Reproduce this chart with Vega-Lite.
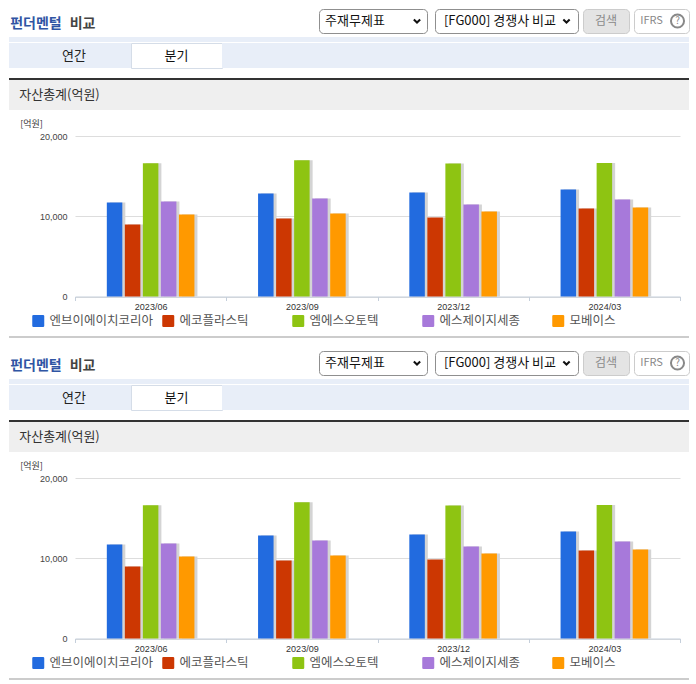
{"$schema":"https://vega.github.io/schema/vega-lite/v6.json","background":"white","padding":0,"config":{"view":{"stroke":null},"font":"Noto Sans CJK KR","concat":{"spacing":0}},"resolve":{"scale":{"color":"independent"},"legend":{"color":"independent"}},"datasets":{"fund":[{"q":"2023/06","c":"엔브이에이치코리아","v":11710},{"q":"2023/06","c":"에코플라스틱","v":8960},{"q":"2023/06","c":"엠에스오토텍","v":16610},{"q":"2023/06","c":"에스제이지세종","v":11830},{"q":"2023/06","c":"모베이스","v":10210},{"q":"2023/09","c":"엔브이에이치코리아","v":12830},{"q":"2023/09","c":"에코플라스틱","v":9710},{"q":"2023/09","c":"엠에스오토텍","v":16980},{"q":"2023/09","c":"에스제이지세종","v":12210},{"q":"2023/09","c":"모베이스","v":10330},{"q":"2023/12","c":"엔브이에이치코리아","v":12960},{"q":"2023/12","c":"에코플라스틱","v":9830},{"q":"2023/12","c":"엠에스오토텍","v":16570},{"q":"2023/12","c":"에스제이지세종","v":11460},{"q":"2023/12","c":"모베이스","v":10580},{"q":"2024/03","c":"엔브이에이치코리아","v":13330},{"q":"2024/03","c":"에코플라스틱","v":10960},{"q":"2024/03","c":"엠에스오토텍","v":16650},{"q":"2024/03","c":"에스제이지세종","v":12080},{"q":"2024/03","c":"모베이스","v":11080}]},"vconcat":[
{"width":10,"height":8,"data":{"values":[{}]},"mark":{"type":"rect","opacity":0}},
{"hconcat":[
{"width":319,"height":24,"data":{"values":[{"a":"펀더멘털","b":"비교"}]},"layer":[{"mark":{"type":"text","dx":-123.5,"dy":3,"fontSize":14,"fontWeight":"bold","color":"#2f55a4"},"encoding":{"text":{"field":"a"}}},{"mark":{"type":"text","dx":-77,"dy":3,"fontSize":14,"fontWeight":"bold","color":"#444444"},"encoding":{"text":{"field":"b"}}}]},
{"width":108,"height":24,"view":{"stroke":"#8f8f8f","cornerRadius":4,"fill":"white"},"data":{"values":[{"t":"주재무제표"}]},"layer":[{"mark":{"type":"text","dx":-18,"fontSize":13,"color":"#111111"},"encoding":{"text":{"field":"t"}}},{"mark":{"type":"point","shape":"M-1,-0.5L0,0.5L1,-0.5","filled":false,"stroke":"#111111","strokeWidth":2,"opacity":1,"size":40,"xOffset":44}}]},
{"width":8,"height":24,"data":{"values":[{}]},"mark":{"type":"rect","opacity":0}},
{"width":143,"height":24,"view":{"stroke":"#8f8f8f","cornerRadius":4,"fill":"white"},"data":{"values":[{"t":"[FG000] 경쟁사 비교"}]},"layer":[{"mark":{"type":"text","dx":-6.5,"fontSize":13,"color":"#111111"},"encoding":{"text":{"field":"t"}}},{"mark":{"type":"point","shape":"M-1,-0.5L0,0.5L1,-0.5","filled":false,"stroke":"#111111","strokeWidth":2,"opacity":1,"size":40,"xOffset":60}}]},
{"width":5,"height":24,"data":{"values":[{}]},"mark":{"type":"rect","opacity":0}},
{"width":46,"height":24,"view":{"stroke":"#cccccc","cornerRadius":4,"fill":"#e4e4e4"},"data":{"values":[{"t":"검색"}]},"mark":{"type":"text","fontSize":12,"color":"#8a8a8a"},"encoding":{"text":{"field":"t"}}},
{"width":5,"height":24,"data":{"values":[{}]},"mark":{"type":"rect","opacity":0}},
{"width":55,"height":24,"view":{"stroke":"#cccccc","cornerRadius":4,"fill":"white"},"data":{"values":[{"t":"IFRS","h":"?"}]},"layer":[{"mark":{"type":"text","dx":-10,"fontSize":11,"color":"#888888"},"encoding":{"text":{"field":"t"}}},{"mark":{"type":"point","shape":"circle","filled":false,"stroke":"#888888","opacity":1,"size":170,"xOffset":16}},{"mark":{"type":"text","dx":16,"fontSize":10,"color":"#888888"},"encoding":{"text":{"field":"h"}}}]}
],"bounds":"flush"},
{"width":10,"height":3,"data":{"values":[{}]},"mark":{"type":"rect","opacity":0}},
{"hconcat":[{"width":9,"height":5,"data":{"values":[{}]},"mark":{"type":"rect","opacity":0}},{"width":680,"height":5,"data":{"values":[{}]},"mark":{"type":"rect","color":"#e8eef8"}}],"bounds":"flush"},
{"hconcat":[{"width":9,"height":25,"data":{"values":[{}]},"mark":{"type":"rect","opacity":0}},
{"width":122,"height":25,"view":{"fill":"#e8eef8"},"data":{"values":[{"t":"연간"}]},"mark":{"type":"text","dx":4,"fontSize":13,"color":"#222222"},"encoding":{"text":{"field":"t"}}},
{"width":91,"height":25,"view":{"fill":"white","stroke":"#d5dde8"},"data":{"values":[{"t":"분기"}]},"mark":{"type":"text","fontSize":13,"color":"#111111"},"encoding":{"text":{"field":"t"}}},
{"width":467,"height":25,"data":{"values":[{}]},"mark":{"type":"rect","color":"#e8eef8"}}],"bounds":"flush"},
{"width":10,"height":9,"data":{"values":[{}]},"mark":{"type":"rect","opacity":0}},
{"hconcat":[{"width":9,"height":2,"data":{"values":[{}]},"mark":{"type":"rect","opacity":0}},{"width":680,"height":2,"data":{"values":[{}]},"mark":{"type":"rect","color":"#333333"}}],"bounds":"flush"},
{"hconcat":[{"width":9,"height":30,"data":{"values":[{}]},"mark":{"type":"rect","opacity":0}},{"width":680,"height":30,"view":{"fill":"#efefef"},"data":{"values":[{"t":"자산총계(억원)"}]},"mark":{"type":"text","dx":-289.5,"fontSize":13,"color":"#333333"},"encoding":{"text":{"field":"t"}}}],"bounds":"flush"},
{"width":10,"height":8.5,"data":{"values":[{}]},"mark":{"type":"rect","opacity":0}},
{"hconcat":[{"width":75,"height":160,"data":{"values":[{}]},"mark":{"type":"rect","opacity":0}},
{"width":605,"height":160.5,"data":{"name":"fund"},"resolve":{"scale":{"xOffset":"independent"}},"layer":[
{"mark":{"type":"bar","color":"#d4d4d4"},"encoding":{"x":{"field":"q","type":"ordinal","scale":{"paddingInner":0,"paddingOuter":0},"axis":{"title":null,"labelAngle":0,"labelFont":"Liberation Sans","labelFontSize":9,"labelColor":"#333333","labelPadding":2,"tickBand":"extent","tickColor":"#c5cfdb","tickSize":4,"domainColor":"#c5cfdb"}},"xOffset":{"field":"c","scale":{"domain":["_a","엔브이에이치코리아","에코플라스틱","엠에스오토텍","에스제이지세종","모베이스","_b"],"paddingInner":0.14,"paddingOuter":0.765,"align":0.609}},"y":{"field":"v","type":"quantitative","scale":{"domain":[0,20000]},"axis":{"title":"[억원]","titleAngle":0,"titleFontSize":9,"titleFontWeight":"normal","titleColor":"#333333","titleX":-44,"titleY":-8,"titleAlign":"center","values":[0,10000,20000],"format":",.0f","labelFont":"Liberation Sans","labelFontSize":9,"labelColor":"#444444","labelPadding":8,"tickSize":0,"domain":false,"gridColor":"#dddddd"}}}},
{"mark":{"type":"bar"},"encoding":{"x":{"field":"q","type":"ordinal"},"xOffset":{"field":"c","scale":{"domain":["_a","엔브이에이치코리아","에코플라스틱","엠에스오토텍","에스제이지세종","모베이스","_b"],"paddingInner":0.14,"paddingOuter":0.765}},"y":{"field":"v","type":"quantitative"},"color":{"field":"c","type":"nominal","sort":["엔브이에이치코리아","에코플라스틱","엠에스오토텍","에스제이지세종","모베이스"],"scale":{"domain":["엔브이에이치코리아","에코플라스틱","엠에스오토텍","에스제이지세종","모베이스"],"range":["#226bdf","#cc3702","#8ec412","#a779da","#ff9900"]},"legend":{"title":null,"orient":"none","legendX":-43,"legendY":178.5,"columns":5,"gridAlign":"all","columnPadding":8,"symbolType":"M-0.8,-1H0.8Q1,-1 1,-0.8V0.8Q1,1 0.8,1H-0.8Q-1,1 -1,0.8V-0.8Q-1,-1 -0.8,-1Z","symbolSize":144,"symbolStrokeWidth":0,"labelFontSize":12.5,"labelColor":"#555555","labelOffset":5}}}}
]}],"bounds":"flush","resolve":{"scale":{"color":"independent"},"legend":{"color":"independent"}}},
{"width":10,"height":8,"data":{"values":[{}]},"mark":{"type":"rect","opacity":0}},
{"hconcat":[{"width":9,"height":2,"data":{"values":[{}]},"mark":{"type":"rect","opacity":0}},{"width":680,"height":2,"data":{"values":[{}]},"mark":{"type":"rect","color":"#cccccc"}}],"bounds":"flush"},

{"width":10,"height":12,"data":{"values":[{}]},"mark":{"type":"rect","opacity":0}},
{"hconcat":[
{"width":319,"height":24,"data":{"values":[{"a":"펀더멘털","b":"비교"}]},"layer":[{"mark":{"type":"text","dx":-123.5,"dy":3,"fontSize":14,"fontWeight":"bold","color":"#2f55a4"},"encoding":{"text":{"field":"a"}}},{"mark":{"type":"text","dx":-77,"dy":3,"fontSize":14,"fontWeight":"bold","color":"#444444"},"encoding":{"text":{"field":"b"}}}]},
{"width":108,"height":24,"view":{"stroke":"#8f8f8f","cornerRadius":4,"fill":"white"},"data":{"values":[{"t":"주재무제표"}]},"layer":[{"mark":{"type":"text","dx":-18,"fontSize":13,"color":"#111111"},"encoding":{"text":{"field":"t"}}},{"mark":{"type":"point","shape":"M-1,-0.5L0,0.5L1,-0.5","filled":false,"stroke":"#111111","strokeWidth":2,"opacity":1,"size":40,"xOffset":44}}]},
{"width":8,"height":24,"data":{"values":[{}]},"mark":{"type":"rect","opacity":0}},
{"width":143,"height":24,"view":{"stroke":"#8f8f8f","cornerRadius":4,"fill":"white"},"data":{"values":[{"t":"[FG000] 경쟁사 비교"}]},"layer":[{"mark":{"type":"text","dx":-6.5,"fontSize":13,"color":"#111111"},"encoding":{"text":{"field":"t"}}},{"mark":{"type":"point","shape":"M-1,-0.5L0,0.5L1,-0.5","filled":false,"stroke":"#111111","strokeWidth":2,"opacity":1,"size":40,"xOffset":60}}]},
{"width":5,"height":24,"data":{"values":[{}]},"mark":{"type":"rect","opacity":0}},
{"width":46,"height":24,"view":{"stroke":"#cccccc","cornerRadius":4,"fill":"#e4e4e4"},"data":{"values":[{"t":"검색"}]},"mark":{"type":"text","fontSize":12,"color":"#8a8a8a"},"encoding":{"text":{"field":"t"}}},
{"width":5,"height":24,"data":{"values":[{}]},"mark":{"type":"rect","opacity":0}},
{"width":55,"height":24,"view":{"stroke":"#cccccc","cornerRadius":4,"fill":"white"},"data":{"values":[{"t":"IFRS","h":"?"}]},"layer":[{"mark":{"type":"text","dx":-10,"fontSize":11,"color":"#888888"},"encoding":{"text":{"field":"t"}}},{"mark":{"type":"point","shape":"circle","filled":false,"stroke":"#888888","opacity":1,"size":170,"xOffset":16}},{"mark":{"type":"text","dx":16,"fontSize":10,"color":"#888888"},"encoding":{"text":{"field":"h"}}}]}
],"bounds":"flush"},
{"width":10,"height":3,"data":{"values":[{}]},"mark":{"type":"rect","opacity":0}},
{"hconcat":[{"width":9,"height":5,"data":{"values":[{}]},"mark":{"type":"rect","opacity":0}},{"width":680,"height":5,"data":{"values":[{}]},"mark":{"type":"rect","color":"#e8eef8"}}],"bounds":"flush"},
{"hconcat":[{"width":9,"height":25,"data":{"values":[{}]},"mark":{"type":"rect","opacity":0}},
{"width":122,"height":25,"view":{"fill":"#e8eef8"},"data":{"values":[{"t":"연간"}]},"mark":{"type":"text","dx":4,"fontSize":13,"color":"#222222"},"encoding":{"text":{"field":"t"}}},
{"width":91,"height":25,"view":{"fill":"white","stroke":"#d5dde8"},"data":{"values":[{"t":"분기"}]},"mark":{"type":"text","fontSize":13,"color":"#111111"},"encoding":{"text":{"field":"t"}}},
{"width":467,"height":25,"data":{"values":[{}]},"mark":{"type":"rect","color":"#e8eef8"}}],"bounds":"flush"},
{"width":10,"height":9,"data":{"values":[{}]},"mark":{"type":"rect","opacity":0}},
{"hconcat":[{"width":9,"height":2,"data":{"values":[{}]},"mark":{"type":"rect","opacity":0}},{"width":680,"height":2,"data":{"values":[{}]},"mark":{"type":"rect","color":"#333333"}}],"bounds":"flush"},
{"hconcat":[{"width":9,"height":30,"data":{"values":[{}]},"mark":{"type":"rect","opacity":0}},{"width":680,"height":30,"view":{"fill":"#efefef"},"data":{"values":[{"t":"자산총계(억원)"}]},"mark":{"type":"text","dx":-289.5,"fontSize":13,"color":"#333333"},"encoding":{"text":{"field":"t"}}}],"bounds":"flush"},
{"width":10,"height":8.5,"data":{"values":[{}]},"mark":{"type":"rect","opacity":0}},
{"hconcat":[{"width":75,"height":160,"data":{"values":[{}]},"mark":{"type":"rect","opacity":0}},
{"width":605,"height":160.5,"data":{"name":"fund"},"resolve":{"scale":{"xOffset":"independent"}},"layer":[
{"mark":{"type":"bar","color":"#d4d4d4"},"encoding":{"x":{"field":"q","type":"ordinal","scale":{"paddingInner":0,"paddingOuter":0},"axis":{"title":null,"labelAngle":0,"labelFont":"Liberation Sans","labelFontSize":9,"labelColor":"#333333","labelPadding":2,"tickBand":"extent","tickColor":"#c5cfdb","tickSize":4,"domainColor":"#c5cfdb"}},"xOffset":{"field":"c","scale":{"domain":["_a","엔브이에이치코리아","에코플라스틱","엠에스오토텍","에스제이지세종","모베이스","_b"],"paddingInner":0.14,"paddingOuter":0.765,"align":0.609}},"y":{"field":"v","type":"quantitative","scale":{"domain":[0,20000]},"axis":{"title":"[억원]","titleAngle":0,"titleFontSize":9,"titleFontWeight":"normal","titleColor":"#333333","titleX":-44,"titleY":-8,"titleAlign":"center","values":[0,10000,20000],"format":",.0f","labelFont":"Liberation Sans","labelFontSize":9,"labelColor":"#444444","labelPadding":8,"tickSize":0,"domain":false,"gridColor":"#dddddd"}}}},
{"mark":{"type":"bar"},"encoding":{"x":{"field":"q","type":"ordinal"},"xOffset":{"field":"c","scale":{"domain":["_a","엔브이에이치코리아","에코플라스틱","엠에스오토텍","에스제이지세종","모베이스","_b"],"paddingInner":0.14,"paddingOuter":0.765}},"y":{"field":"v","type":"quantitative"},"color":{"field":"c","type":"nominal","sort":["엔브이에이치코리아","에코플라스틱","엠에스오토텍","에스제이지세종","모베이스"],"scale":{"domain":["엔브이에이치코리아","에코플라스틱","엠에스오토텍","에스제이지세종","모베이스"],"range":["#226bdf","#cc3702","#8ec412","#a779da","#ff9900"]},"legend":{"title":null,"orient":"none","legendX":-43,"legendY":178.5,"columns":5,"gridAlign":"all","columnPadding":8,"symbolType":"M-0.8,-1H0.8Q1,-1 1,-0.8V0.8Q1,1 0.8,1H-0.8Q-1,1 -1,0.8V-0.8Q-1,-1 -0.8,-1Z","symbolSize":144,"symbolStrokeWidth":0,"labelFontSize":12.5,"labelColor":"#555555","labelOffset":5}}}}
]}],"bounds":"flush","resolve":{"scale":{"color":"independent"},"legend":{"color":"independent"}}},
{"width":10,"height":8,"data":{"values":[{}]},"mark":{"type":"rect","opacity":0}},
{"hconcat":[{"width":9,"height":2,"data":{"values":[{}]},"mark":{"type":"rect","opacity":0}},{"width":680,"height":2,"data":{"values":[{}]},"mark":{"type":"rect","color":"#cccccc"}}],"bounds":"flush"}
]}
